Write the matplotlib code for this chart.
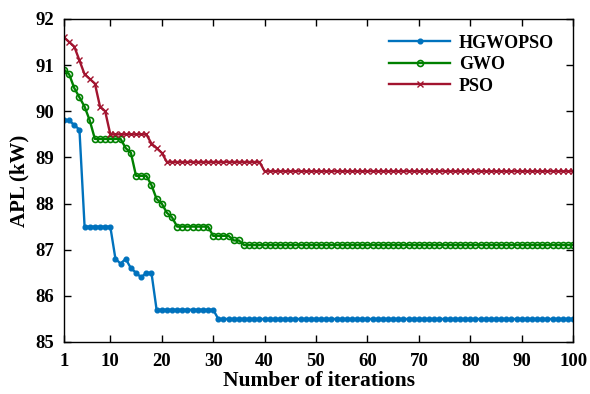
import numpy as np
import matplotlib
matplotlib.use("Agg")
import matplotlib.pyplot as plt

# Best APL (kW) per iteration
iterations = np.arange(1, 101)

hgwopso_head = [89.8, 89.8, 89.7, 89.6, 87.5, 87.5, 87.5, 87.5, 87.5, 87.5,
                86.8, 86.7, 86.8, 86.6, 86.5, 86.4, 86.5, 86.5]
hgwopso_mid = 85.7   # iterations 19-30
hgwopso_end = 85.5   # iterations 31-100

gwo_head = [90.9, 90.8, 90.5, 90.3, 90.1, 89.8, 89.4, 89.4, 89.4, 89.4,
            89.4, 89.4, 89.2, 89.1, 88.6, 88.6, 88.6, 88.4, 88.1, 88.0,
            87.8, 87.7, 87.5, 87.5, 87.5, 87.5, 87.5, 87.5, 87.5, 87.3,
            87.3, 87.3, 87.3, 87.2, 87.2]
gwo_end = 87.1       # iterations 36-100

pso_head = [91.6, 91.5, 91.4, 91.1, 90.8, 90.7, 90.6, 90.1, 90.0, 89.5,
            89.5, 89.5, 89.5, 89.5, 89.5, 89.5, 89.5, 89.3, 89.2, 89.1]
pso_mid = 88.9       # iterations 21-39
pso_end = 88.7       # iterations 40-100

hgwopso = hgwopso_head + [hgwopso_mid] * 12 + [hgwopso_end] * 70
gwo = gwo_head + [gwo_end] * 65
pso = pso_head + [pso_mid] * 19 + [pso_end] * 61

x_ticks = [1, 10, 20, 30, 40, 50, 60, 70, 80, 90, 100]
y_ticks = [85, 86, 87, 88, 89, 90, 91, 92]

plt.rcParams["font.family"] = ["Liberation Serif", "DejaVu Serif"]
plt.rcParams["font.weight"] = "bold"

fig = plt.figure(figsize=(5.9, 3.94), dpi=100)
ax = fig.add_axes([0.1085, 0.132, 0.863, 0.820])

ax.plot(iterations, hgwopso, color="#0072BD", marker="o", markersize=3.4,
        linewidth=1.7, label="HGWOPSO")
ax.plot(iterations, gwo, color="#008000", marker="o", markersize=4.3,
        markerfacecolor="none", markeredgewidth=1.2, linewidth=1.7, label="GWO")
ax.plot(iterations, pso, color="#A2142F", marker="x", markersize=3.8,
        linewidth=1.7, label="PSO")

ax.set_xlim(1, 100)
ax.set_ylim(85, 92)
ax.set_xticks(x_ticks)
ax.set_yticks(y_ticks)
ax.tick_params(direction="in", top=True, right=True, labelsize=13.5,
               length=5, width=1)
ax.tick_params(axis="x", pad=8)
ax.tick_params(axis="y", pad=7)
for lab in ax.get_xticklabels() + ax.get_yticklabels():
    lab.set_fontweight("bold")
for s in ax.spines.values():
    s.set_linewidth(1)

ax.set_xlabel("Number of iterations", fontsize=15.5, fontweight="bold", labelpad=1)
ax.set_ylabel("APL (kW)", fontsize=15, fontweight="bold", labelpad=4)

leg = ax.legend(loc="upper right", frameon=False, fontsize=13,
                handlelength=3.35, handletextpad=0.5, labelspacing=0.25,
                borderaxespad=0.3, bbox_to_anchor=(0.987, 0.99))
for t in leg.get_texts():
    t.set_fontweight("bold")

fig.savefig("out.png", dpi=100)
